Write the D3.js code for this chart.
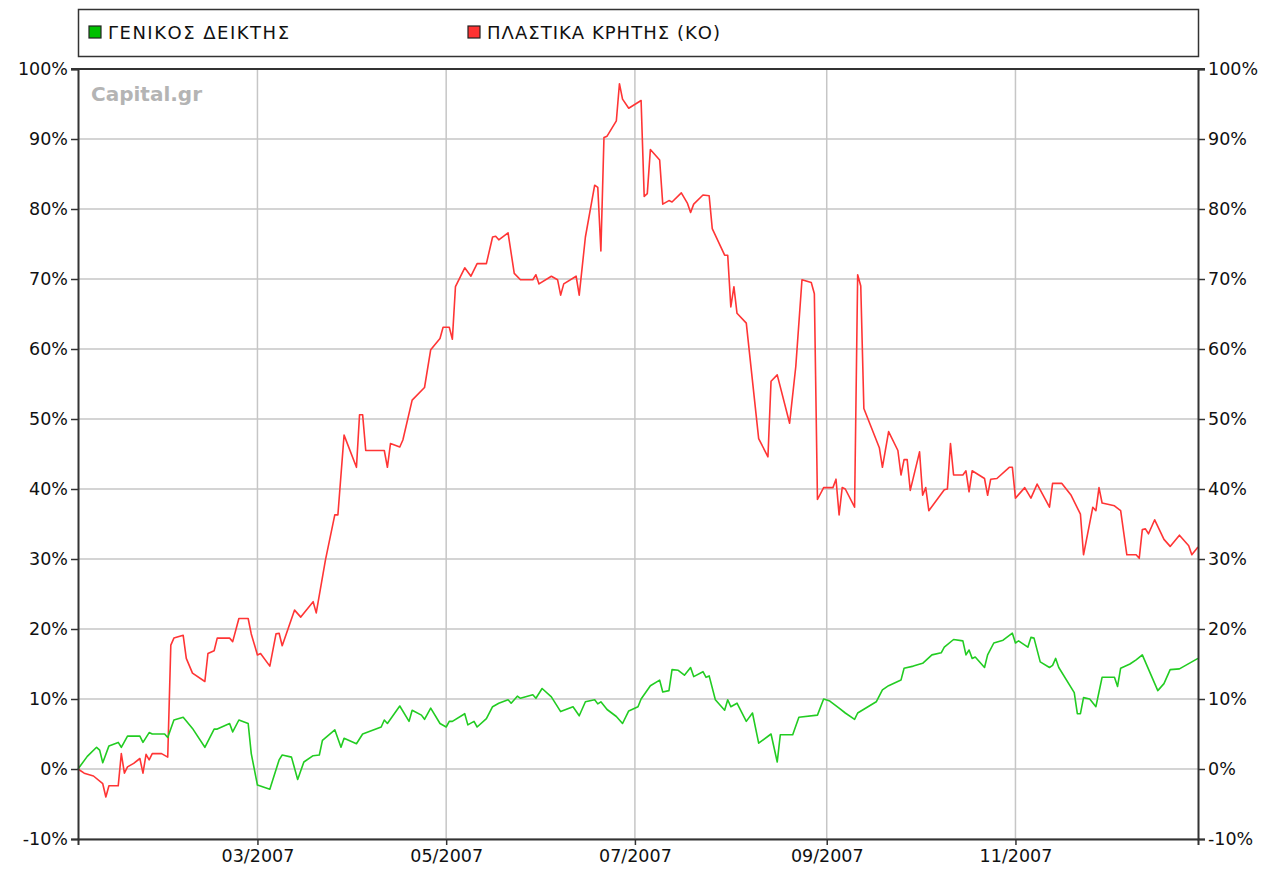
<!DOCTYPE html>
<html>
<head>
<meta charset="utf-8">
<script src="https://cdn.jsdelivr.net/npm/d3@7"></script>
<style>
  html, body { margin: 0; padding: 0; background: #fff; }
  svg { display: block; }
  text { font-family: "DejaVu Sans", Verdana, sans-serif; }
</style>
</head>
<body>
<svg id="chart" width="1273" height="877"></svg>
<script>
// ---- data (days since 1 Jan 2007, % change) ----
const seriesNames = ["ΓΕΝΙΚΟΣ ΔΕΙΚΤΗΣ", "ΠΛΑΣΤΙΚΑ ΚΡΗΤΗΣ (ΚΟ)"];
const seriesColors = ["#22cc22", "#ff3535"];
const legendColors = ["#00c000", "#ff3333"];

const generalDays = [1,4,7,8,9,11,14,15,17,21,22,24,25,29,30,32,35,38,42,45,46,50,51,53,56,57,59,63,66,67,70,72,74,77,79,80,84,86,87,91,93,99,100,101,105,108,109,112,113,115,118,120,121,122,126,127,129,130,133,135,137,140,141,143,144,148,149,151,154,157,161,163,165,168,169,170,172,175,177,179,182,183,186,189,190,192,193,195,197,199,200,203,204,205,207,210,211,212,214,217,219,221,225,227,228,232,234,240,242,244,247,249,252,253,259,261,263,267,268,271,274,277,280,281,284,287,288,289,290,291,294,295,297,300,303,304,305,308,309,310,312,315,316,317,318,323,324,325,326,328,330,331,332,336,337,338,341,343,345,350,352,354,357,363];
const generalValues = [0,1.8,3.1,2.7,0.9,3.3,3.8,3.1,4.7,4.7,3.8,5.2,5.0,5.0,4.5,7.0,7.4,5.8,3.1,5.7,5.7,6.5,5.3,7.0,6.5,2.2,-2.3,-2.9,1.3,2.0,1.7,-1.5,1.0,1.9,2.0,4.1,5.6,3.1,4.4,3.6,5.0,6.0,7.0,6.5,9.0,6.8,8.4,7.7,7.1,8.7,6.5,6.0,6.8,6.8,7.9,6.3,6.8,6.0,7.2,8.9,9.4,9.9,9.4,10.4,10.1,10.6,10.1,11.5,10.3,8.2,8.9,7.6,9.6,9.9,9.3,9.6,8.5,7.5,6.5,8.3,8.9,10.0,11.9,12.7,11.0,11.2,14.2,14.1,13.4,14.5,13.2,13.9,13.1,13.3,9.9,8.4,9.9,8.9,9.4,6.8,8.0,3.7,5.0,1.0,4.9,4.9,7.4,7.7,10.0,9.7,8.7,8.0,7.1,8.0,9.6,11.3,11.9,12.7,14.4,14.7,15.1,16.3,16.6,17.4,18.5,18.3,16.3,17.0,15.8,16.0,14.5,16.3,18.0,18.4,19.4,18.0,18.3,17.4,18.8,18.7,15.3,14.5,14.8,15.8,14.5,10.9,7.9,7.9,10.2,10.0,8.9,11.0,13.1,13.1,11.8,14.4,15.0,15.6,16.3,11.2,12.2,14.2,14.3,15.8];

const plasticDays = [1,3,6,9,10,11,14,15,16,17,19,21,22,23,24,25,28,30,31,32,35,36,38,42,43,45,46,50,51,53,56,57,59,60,63,65,66,67,71,73,77,78,81,84,85,87,91,92,93,94,100,101,102,105,106,109,113,115,118,119,121,122,123,126,128,130,133,135,136,137,140,142,144,148,149,150,154,156,157,158,162,163,165,168,169,170,171,172,175,176,177,179,183,184,185,186,189,190,192,193,196,198,199,200,203,205,206,210,211,212,213,214,217,221,224,225,227,231,233,235,238,239,240,242,245,246,247,248,249,252,253,254,255,260,261,263,266,267,268,269,270,273,274,275,276,281,282,283,284,287,288,289,290,294,295,296,298,302,303,304,307,309,311,315,316,319,322,325,326,329,330,331,332,336,338,340,343,344,345,346,347,349,352,354,357,360,361,363];
const plasticValues = [0,-0.6,-1.0,-2.1,-4.0,-2.4,-2.4,2.2,-0.6,0.3,0.8,1.5,-0.6,2.1,1.3,2.2,2.2,1.7,17.7,18.7,19.1,15.8,13.7,12.5,16.5,16.9,18.7,18.7,18.2,21.5,21.5,19.3,16.3,16.5,14.7,19.3,19.4,17.6,22.7,21.7,23.9,22.3,29.9,36.3,36.3,47.7,43.1,50.6,50.6,45.5,45.5,43.1,46.5,46.0,47.0,52.7,54.5,59.9,61.5,63.1,63.1,61.4,68.9,71.6,70.4,72.2,72.2,76.0,76.1,75.6,76.6,70.8,69.9,69.9,70.6,69.3,70.4,69.9,67.7,69.3,70.4,67.7,76.0,83.4,83.1,74.0,90.2,90.4,92.6,97.9,95.7,94.4,95.5,81.8,82.2,88.5,87.0,80.7,81.2,81.0,82.3,80.8,79.5,80.7,82.0,81.9,77.2,73.4,73.4,66.0,68.9,65.1,63.7,47.2,44.6,55.4,56.3,49.4,57.5,69.9,69.5,67.9,38.5,40.2,40.2,41.4,36.3,40.2,40.0,37.4,70.6,69.0,51.5,45.9,43.1,48.2,45.5,42.0,44.2,44.2,39.8,45.3,39.1,40.2,36.9,39.9,40.0,46.5,42.0,42.0,42.6,39.6,42.6,41.5,39.1,41.4,41.5,43.1,43.1,38.7,40.2,38.7,40.7,37.4,40.8,40.8,39.1,36.4,30.6,37.4,36.9,40.2,38.0,37.6,36.9,30.6,30.6,30.1,34.2,34.3,33.6,35.6,32.8,31.8,33.4,31.9,30.6,31.7];

const yTicks = [-10,0,10,20,30,40,50,60,70,80,90,100];
const xStart = "2007-01-02", xEnd = "2007-12-30";

// ---- layout ----
const m = { left: 78, right: 1198, top: 69, bottom: 839 };

const svg = d3.select("#chart");
const parse = d3.timeParse("%Y-%m-%d");
const base = new Date(2007, 0, 1);
const toDate = d => d3.timeDay.offset(base, d);

const x = d3.scaleTime().domain([parse(xStart), parse(xEnd)]).range([m.left, m.right]);
const y = d3.scaleLinear().domain([-10, 100]).range([m.bottom, m.top]);

// months Mar, May, Jul, Sep, Nov
const xTickVals = d3.timeMonth.range(parse(xStart), parse(xEnd)).filter(d => [2,4,6,8,10].includes(d.getMonth()));

// gridlines
const grid = svg.append("g").attr("stroke", "#c6c6c6").attr("stroke-width", 1.5);
grid.selectAll("line.h").data(yTicks).join("line")
  .attr("x1", m.left).attr("x2", m.right)
  .attr("y1", d => y(d)).attr("y2", d => y(d));
grid.selectAll("line.v").data(xTickVals).join("line")
  .attr("x1", d => x(d)).attr("x2", d => x(d))
  .attr("y1", m.top).attr("y2", m.bottom);

// watermark
svg.append("text").attr("x", 91).attr("y", 101)
  .attr("font-size", 20).attr("font-weight", "bold").attr("fill", "#b4b4b4")
  .text("Capital.gr");

// lines
const mk = (days, vals) => days.map((d, i) => ({ date: toDate(d), v: vals[i] }));
const series = [mk(generalDays, generalValues), mk(plasticDays, plasticValues)];
const line = d3.line().x(d => x(d.date)).y(d => y(d.v));
svg.append("path").datum(series[1]).attr("d", line)
  .attr("fill", "none").attr("stroke", seriesColors[1]).attr("stroke-width", 1.6).attr("stroke-linejoin", "round");
svg.append("path").datum(series[0]).attr("d", line)
  .attr("fill", "none").attr("stroke", seriesColors[0]).attr("stroke-width", 1.6).attr("stroke-linejoin", "round");

// axes
const axisColor = "#333";
const fmtPct = d => d + "%";
const gL = svg.append("g").attr("transform", `translate(${m.left},0)`)
  .call(d3.axisLeft(y).tickValues(yTicks).tickFormat(fmtPct).tickSize(7).tickPadding(3));
const gR = svg.append("g").attr("transform", `translate(${m.right},0)`)
  .call(d3.axisRight(y).tickValues(yTicks).tickFormat(fmtPct).tickSize(7).tickPadding(3));
const gB = svg.append("g").attr("transform", `translate(0,${m.bottom})`)
  .call(d3.axisBottom(x).tickValues(xTickVals).tickFormat(d3.timeFormat("%m/%Y")).tickSize(6).tickPadding(5));
[gL, gR, gB].forEach(g => {
  g.select(".domain").attr("stroke", axisColor).attr("stroke-width", 2);
  g.selectAll(".tick line").attr("stroke", axisColor).attr("stroke-width", 1.5);
  g.selectAll(".tick text").attr("fill", "#111").attr("font-size", 17.5)
    .attr("font-family", "DejaVu Sans, Verdana, sans-serif");
});
// top border
svg.append("line").attr("x1", m.left - 7).attr("x2", m.right + 7)
  .attr("y1", m.top).attr("y2", m.top).attr("stroke", axisColor).attr("stroke-width", 2);

// legend
const legendTextWidths = [181, 233];
svg.append("rect").attr("x", 78.5).attr("y", 9.5).attr("width", 1120).attr("height", 47)
  .attr("fill", "#fff").attr("stroke", axisColor).attr("stroke-width", 1.5);
const lg = svg.append("g").selectAll("g").data(seriesNames).join("g")
  .attr("transform", (d, i) => `translate(${[89, 468][i]},26)`);
lg.append("rect").attr("width", 12).attr("height", 12)
  .attr("fill", (d, i) => legendColors[i]).attr("stroke", "#222").attr("stroke-width", 1.2);
lg.append("text").attr("x", 19).attr("y", 12.5).attr("font-size", 18).attr("fill", "#111")
  .attr("textLength", (d, i) => legendTextWidths[i]).attr("lengthAdjust", "spacing")
  .text(d => d);
</script>
</body>
</html>
